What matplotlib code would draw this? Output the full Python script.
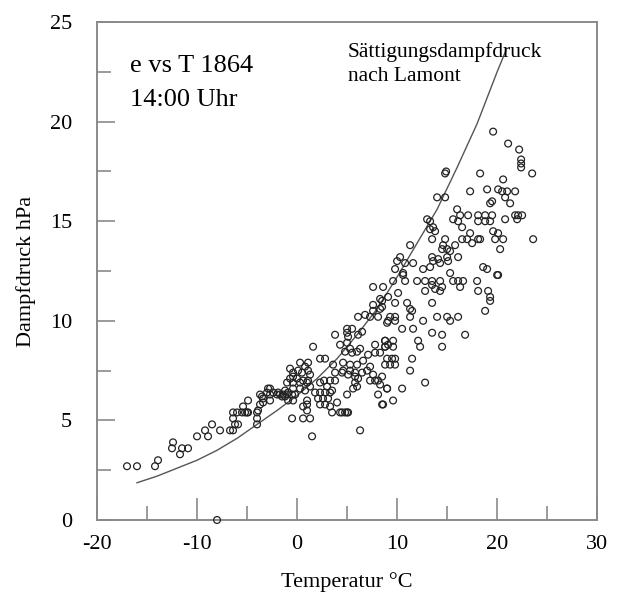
import numpy as np
import matplotlib
matplotlib.use('Agg')
import matplotlib.pyplot as plt
from matplotlib.ticker import MultipleLocator

plt.rcParams['font.family'] = ['Liberation Serif', 'DejaVu Serif']
plt.rcParams['axes.unicode_minus'] = False

# Saettigungsdampfdruck nach Lamont
curve_T = [-16, -14, -12, -10, -8, -6, -4, -2, 0, 2, 4, 6, 8, 10, 12, 14, 16, 18, 20, 20.9]
curve_e = [1.87, 2.2, 2.6, 3.0, 3.5, 4.1, 4.8, 5.5, 6.25, 7.1, 8.1, 9.3, 10.6, 12.2,
           13.9, 15.6, 17.7, 19.9, 22.5, 23.6]

# Messwerte 14:00 Uhr (Temperatur, Dampfdruck)
cold_T = [-17.0, -16.0, -14.2, -13.9, -12.4, -12.5, -11.7, -11.5, -10.9, -10.0, -9.2, -8.9,
          -8.5, -7.7, -6.7, -6.4, -8.0, -6.4, -6.4, -6.2, -5.9, -5.4, -5.2, -4.9, -4.0, -4.0,
          -4.0, -3.9, -3.7, -3.5, -3.4, -4.9, -6.0, -5.5, -5.0]
cold_e = [2.7, 2.7, 2.7, 3.0, 3.9, 3.6, 3.3, 3.6, 3.6, 4.2, 4.5, 4.2,
          4.8, 4.5, 4.5, 4.5, 0.0, 5.1, 5.4, 4.8, 4.8, 5.7, 5.4, 6.0, 4.8, 5.1,
          5.4, 5.5, 5.8, 6.2, 5.9, 5.4, 5.4, 5.4, 5.4]

zero_T = [-2.9, -2.7, -2.0, -1.7, -1.4, -1.0, -0.9, -0.5, -0.4, -3.7, -3.4, -2.7, -2.4, -1.9,
          -1.5, -1.2, -3.0, -2.7, -1.2, -0.9, -0.4, 0.3, 0.8, 1.3, -0.2, -0.7, 0.0, 0.6, 1.1,
          -1.0, -0.4, 0.3, 1.0, 0.3, 1.1, 0.1, -0.4, 0.5, 1.1, 1.3, -0.7, -0.4, 0.8,
          1.0, 1.0, 1.0, 0.6, 1.3, -0.5, 1.5, 0.6]
zero_e = [6.6, 6.3, 6.3, 6.3, 6.3, 6.3, 6.0, 6.3, 6.0, 6.3, 6.1, 6.0, 6.4, 6.4,
          6.2, 6.2, 6.4, 6.6, 6.5, 6.4, 6.6, 6.6, 6.5, 6.7, 6.3, 7.1, 7.1, 7.0, 7.0,
          6.9, 6.9, 6.9, 6.9, 7.9, 7.9, 7.5, 7.4, 7.4, 7.5, 7.3, 7.6, 7.2, 7.7,
          6.0, 5.8, 5.5, 5.1, 5.1, 5.1, 4.2, 5.7]

mild_T = [1.6, 2.3, 1.8, 2.3, 2.8, 3.3, 2.1, 2.6, 3.1, 3.5, 3.0, 2.3, 2.8, 3.3, 4.0, 3.5,
          4.3, 4.8, 5.1, 3.8, 4.5, 5.1, 5.8, 6.5, 4.6, 5.3, 6.0, 4.6, 5.3, 5.8, 5.8, 6.1,
          5.6, 6.0, 7.0, 7.3, 7.6, 7.3, 7.8, 8.1, 8.3, 9.0, 6.6, 7.1, 7.8, 8.3, 8.8, 2.3,
          2.8, 3.6, 5.0, 8.1, 8.6, 6.3, 4.3, 5.0, 5.3, 4.8, 5.5, 6.0, 6.3, 8.8, 9.1, 7.8,
          3.8, 6.1, 6.5, 5.0, 5.5, 5.0, 5.1, 9.0, 6.1, 6.8, 7.3, 8.1, 7.6, 8.3, 7.6, 8.3,
          9.1, 7.6, 8.6, 8.5, 8.5, 3.3, 3.8, 2.7, 4.5, 5.0]
mild_e = [8.7, 6.9, 6.4, 6.4, 6.4, 6.4, 6.1, 6.1, 6.1, 6.5, 6.7, 5.8, 5.8, 5.7, 5.9, 5.4,
          5.4, 5.4, 5.4, 7.4, 7.4, 7.3, 7.4, 7.4, 7.9, 7.8, 7.8, 7.5, 7.5, 7.2, 6.9, 7.1,
          6.6, 6.7, 7.5, 7.7, 7.3, 7.0, 7.0, 7.0, 6.8, 6.6, 8.0, 8.3, 8.4, 8.4, 8.7, 8.1,
          8.1, 7.8, 6.3, 6.3, 5.8, 4.5, 8.8, 8.9, 8.6, 8.45, 8.4, 8.45, 8.6, 9.0, 8.8, 8.8,
          9.3, 9.3, 9.45, 9.6, 9.6, 9.4, 9.2, 9.9, 10.2, 10.3, 10.2, 10.2, 10.8, 10.6, 10.5, 11.1,
          11.2, 11.7, 11.7, 11.0, 10.7, 7.0, 7.0, 7.0, 5.4, 5.4]

warm_T = [10.0, 10.8, 11.6, 12.6, 13.3, 13.6, 14.3, 9.8, 10.6, 9.6, 10.8, 12.0, 12.8, 13.5,
          14.3, 13.5, 13.8, 14.5, 10.1, 12.8, 14.3, 9.8, 11.0, 11.3, 11.5, 13.5, 9.3, 9.8,
          9.1, 9.8, 11.3, 12.6, 10.5, 11.6, 14.0, 15.0, 15.3, 16.1, 13.5, 14.5, 16.8, 14.5,
          8.8, 9.6, 8.8, 9.6, 12.1, 12.3, 9.0, 9.5, 9.8, 8.8, 9.3, 9.8, 11.5, 11.3, 8.5,
          9.0, 10.5, 12.8, 9.6, 8.5, 10.3, 10.6, 11.3]
warm_e = [13.0, 12.9, 12.9, 12.6, 12.7, 13.0, 12.9, 12.6, 12.3, 12.0, 12.0, 12.0, 12.0, 12.0,
          12.0, 11.8, 11.6, 11.7, 11.4, 11.5, 11.5, 10.9, 10.9, 10.6, 10.5, 10.9, 10.2, 10.2,
          10.0, 10.0, 10.2, 10.0, 9.6, 9.6, 10.2, 10.2, 10.0, 10.2, 9.4, 9.3, 9.3, 8.7,
          9.0, 9.0, 8.7, 8.7, 9.0, 8.7, 8.1, 8.1, 8.1, 7.8, 7.8, 7.8, 8.1, 7.5, 7.2,
          6.6, 6.6, 6.9, 6.0, 5.8, 13.2, 12.4, 13.8]

hot_T = [15.3, 15.6, 16.1, 16.6, 18.0, 16.3, 18.6, 19.0, 20.0, 18.1, 19.1, 19.3, 19.3, 18.8,
         14.8, 18.3, 14.0, 14.8, 17.3, 19.0, 20.1, 19.3, 16.0, 16.3, 17.1, 13.0, 13.3, 13.6,
         13.3, 13.8, 15.6, 16.1, 16.5, 18.1, 18.8, 19.5, 18.1, 18.8, 19.3, 13.5, 14.8, 14.6,
         14.5, 15.0, 15.3, 15.8, 16.5, 17.0, 17.3, 17.5, 18.1, 19.6, 20.1, 19.8, 13.5, 14.1,
         15.0, 16.1, 15.1, 19.6, 21.1, 22.2, 22.4, 22.4, 22.4, 23.5, 20.6, 20.5, 21.0, 21.8,
         20.8, 21.3, 19.5, 20.8, 21.8, 22.1, 22.5, 22.0, 23.6, 20.3, 18.3, 20.6, 20.1, 14.9]
hot_e = [12.4, 12.0, 12.0, 12.0, 12.0, 11.7, 12.7, 12.6, 12.3, 11.5, 11.5, 11.2, 11.0, 10.5,
         17.4, 17.4, 16.2, 16.2, 16.5, 16.6, 16.6, 15.9, 15.6, 15.3, 15.3, 15.1, 15.0, 14.7,
         14.6, 14.5, 15.1, 15.0, 14.7, 15.3, 15.3, 15.3, 15.0, 15.0, 15.0, 14.1, 14.1, 13.8,
         13.6, 13.6, 13.5, 13.8, 14.1, 14.1, 14.4, 13.9, 14.1, 14.5, 14.4, 14.1, 13.2, 13.1,
         13.2, 13.2, 13.0, 19.5, 18.9, 18.6, 18.1, 17.9, 17.7, 17.4, 17.1, 16.5, 16.5, 16.5,
         16.2, 15.9, 16.0, 15.1, 15.3, 15.3, 15.3, 15.1, 14.1, 13.6, 14.1, 14.1, 12.3, 17.5]

temp = np.array(cold_T + zero_T + mild_T + warm_T + hot_T)
dampf = np.array(cold_e + zero_e + mild_e + warm_e + hot_e)

fig = plt.figure(figsize=(6.19, 5.97), dpi=100)
ax = fig.add_axes([0.1567, 0.129, 0.808, 0.834])

ax.plot(curve_T, curve_e, color='#555555', lw=1.0)
ax.scatter(temp, dampf, s=24, facecolors='none', edgecolors='#222222', linewidths=0.9,
           clip_on=False, zorder=3)

ax.set_xlim(-20, 30)
ax.set_ylim(0, 25)
ax.xaxis.set_major_locator(MultipleLocator(10))
ax.xaxis.set_minor_locator(MultipleLocator(5))
ax.yaxis.set_major_locator(MultipleLocator(5))
ax.yaxis.set_minor_locator(MultipleLocator(2.5))

for s in ax.spines.values():
    s.set_color('#8a8a8a')
    s.set_linewidth(1.4)
ax.tick_params(which='both', direction='in', color='#8a8a8a', width=1.2, labelsize=16,
               top=False, right=False)
ax.tick_params(axis='x', which='major', length=16, pad=11)
ax.tick_params(axis='x', which='minor', length=10)
ax.tick_params(axis='y', which='major', length=13, pad=18)
ax.tick_params(axis='y', which='minor', length=10)

ax.set_xlabel('Temperatur °C', fontsize=16, labelpad=13)
ax.set_ylabel('Dampfdruck hPa', fontsize=16, labelpad=10)

ax.text(-16.7, 22.8, 'e vs T 1864', fontsize=19, va='center')
ax.text(-16.7, 21.1, '14:00 Uhr', fontsize=19, va='center')
ax.text(5.1, 23.5, 'Sättigungsdampfdruck', fontsize=15.5, va='center')
ax.text(5.1, 22.25, 'nach Lamont', fontsize=15.5, va='center')

fig.savefig('out.png', dpi=100)
